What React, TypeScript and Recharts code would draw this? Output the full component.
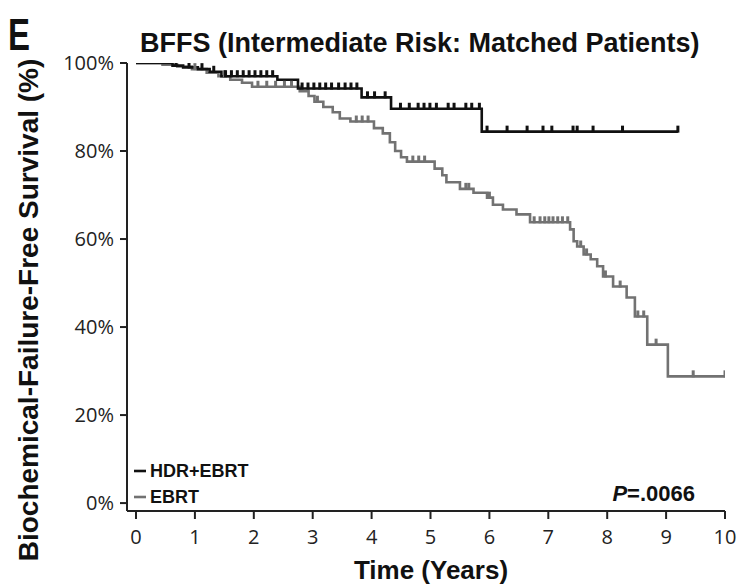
import { LineChart, Line, XAxis, YAxis } from 'recharts'

// HDR+EBRT: step times (years) and survival (%) after each step
const hdrTime = [0, 0.62, 0.8, 1.05, 1.25, 1.45, 2.4, 2.75, 3.83, 4.33, 5.87]
const hdrSurv = [100, 99.4, 99.0, 98.6, 98.0, 97.0, 96.2, 94.2, 92.2, 89.6, 84.4]
const hdrCensored = [
  0.68, 0.9, 1.12, 1.32, 1.52, 1.62, 1.72, 1.82, 1.92, 2.02, 2.12, 2.22, 2.32,
  2.82, 2.92, 3.02, 3.12, 3.22, 3.32, 3.44, 3.55, 3.65, 3.75, 3.93, 4.05, 4.23,
  4.49, 4.64, 4.79, 4.89, 4.99, 5.1, 5.3, 5.4, 5.6, 5.7, 5.83,
  5.96, 6.3, 6.64, 6.91, 7.06, 7.42, 7.49, 7.76, 8.26, 9.2,
]

// EBRT
const ebrtTime = [
  0, 0.45, 0.7, 0.95, 1.2, 1.4, 1.6, 1.8, 1.97, 2.78, 2.93, 3.03, 3.18, 3.34,
  3.46, 3.64, 4.04, 4.19, 4.31, 4.4, 4.5, 4.6, 5.07, 5.2, 5.27, 5.5, 5.73,
  5.96, 6.06, 6.23, 6.46, 6.69, 7.37, 7.43, 7.49, 7.6, 7.72, 7.83, 7.93, 8.1,
  8.33, 8.47, 8.68, 9.03,
]
const ebrtSurv = [
  100, 99.6, 99.2, 98.6, 97.8, 97.0, 96.2, 95.5, 94.6, 93.6, 92.5, 91.2, 90.0,
  88.8, 87.4, 86.7, 85.2, 84.0, 82.0, 80.0, 78.6, 77.6, 76.0, 74.5, 72.9, 71.4,
  70.5, 69.4, 67.8, 66.7, 65.6, 63.8, 62.2, 59.5, 58.3, 56.5, 55.4, 53.8, 51.5,
  49.2, 46.7, 42.4, 36.0, 28.8,
]
const ebrtCensored = [
  1.0, 1.5, 2.07, 2.22, 2.37, 2.52, 2.64, 3.08, 3.74, 3.84, 3.94, 4.7, 4.8,
  4.9, 5.6, 5.65, 6.0, 6.76, 6.86, 6.94, 7.01, 7.08, 7.16, 7.24, 7.33, 7.55,
  7.65, 7.97, 8.22, 8.52, 8.62, 8.83, 9.46, 10.0,
]

const xTicks = [0, 1, 2, 3, 4, 5, 6, 7, 8, 9, 10]
const yTicks = [0, 20, 40, 60, 80, 100]

type Pt = { t: number; s: number; c: boolean }

function buildSeries(times: number[], surv: number[], censored: number[]): Pt[] {
  const pts: Pt[] = times.map((t, i) => ({ t, s: surv[i], c: false }))
  censored.forEach((t) => {
    let s = surv[0]
    times.forEach((tt, i) => {
      if (tt <= t) s = surv[i]
    })
    pts.push({ t, s, c: true })
  })
  return pts.sort((a, b) => a.t - b.t)
}

const hdrData = buildSeries(hdrTime, hdrSurv, hdrCensored)
const ebrtData = buildSeries(ebrtTime, ebrtSurv, ebrtCensored)

const HDR_COLOR = '#111111'
const EBRT_COLOR = '#727272'

const censorDot = (color: string) => (props: any) => {
  const { cx, cy, payload, index } = props
  if (!payload || !payload.c || cx == null) return <g key={index} />
  return <rect key={index} x={cx - 1.5} y={cy - 6} width={3} height={7} fill={color} />
}

const boldFont = '"Liberation Sans", Arial, sans-serif'
const tickFont = '"Open Sans", sans-serif'

export default function App() {
  return (
    <div style={{ position: 'absolute', left: 0, top: 0, width: 746, height: 588, background: '#fff' }}>
      <LineChart
        width={746}
        height={588}
        margin={{ top: 63, right: 21, bottom: 37, left: 67 }}
      >
        <XAxis
          type="number"
          dataKey="t"
          domain={[-0.153, 10]}
          ticks={xTicks}
          allowDataOverflow
          height={40}
          tickSize={8}
          tickMargin={11}
          axisLine={{ stroke: '#222', strokeWidth: 2 }}
          tickLine={{ stroke: '#222', strokeWidth: 2 }}
          tick={{ fontSize: 20, fill: '#222', fontFamily: tickFont }}
        />
        <YAxis
          type="number"
          domain={[-1.8, 100]}
          ticks={yTicks}
          allowDataOverflow
          width={60}
          tickSize={7}
          tickMargin={6}
          axisLine={{ stroke: '#222', strokeWidth: 2 }}
          tickLine={{ stroke: '#222', strokeWidth: 2 }}
          tick={{ fontSize: 20, fill: '#222', fontFamily: tickFont }}
          tickFormatter={(v: number) => `${v}%`}
        />
        <Line
          data={ebrtData}
          dataKey="s"
          type="stepAfter"
          stroke={EBRT_COLOR}
          strokeWidth={2.6}
          dot={censorDot(EBRT_COLOR)}
          activeDot={false}
          isAnimationActive={false}
        />
        <Line
          data={hdrData}
          dataKey="s"
          type="stepAfter"
          stroke={HDR_COLOR}
          strokeWidth={2.6}
          dot={censorDot(HDR_COLOR)}
          activeDot={false}
          isAnimationActive={false}
        />
      </LineChart>

      <svg width={746} height={588} style={{ position: 'absolute', left: 0, top: 0, pointerEvents: 'none' }}>
        <text x={8} y={50} fontFamily={boldFont} fontWeight="bold" fontSize={44} textLength={22} lengthAdjust="spacingAndGlyphs" fill="#111">
          E
        </text>
        <text x={140} y={52} fontFamily={boldFont} fontWeight="bold" fontSize={27} fill="#111">
          BFFS (Intermediate Risk: Matched Patients)
        </text>
        <text
          transform="rotate(-90)"
          x={-310}
          y={38}
          textAnchor="middle"
          fontFamily={boldFont}
          fontWeight="bold"
          fontSize={28}
          fill="#111"
        >
          Biochemical-Failure-Free Survival (%)
        </text>
        <text x={431} y={579} textAnchor="middle" fontFamily={boldFont} fontWeight="bold" fontSize={26} fill="#111">
          Time (Years)
        </text>

        <line x1={134} x2={146} y1={471} y2={471} stroke={HDR_COLOR} strokeWidth={2.6} />
        <text x={150} y={477} fontFamily={boldFont} fontWeight="bold" fontSize={18} fill="#111">
          HDR+EBRT
        </text>
        <line x1={134} x2={146} y1={497} y2={497} stroke={EBRT_COLOR} strokeWidth={2.6} />
        <text x={150} y={503} fontFamily={boldFont} fontWeight="bold" fontSize={18} fill="#111">
          EBRT
        </text>
        <text x={695} y={501} textAnchor="end" fontFamily={boldFont} fontWeight="bold" fontSize={22} fill="#111">
          <tspan fontStyle="italic">P</tspan>=.0066
        </text>
      </svg>
    </div>
  )
}
